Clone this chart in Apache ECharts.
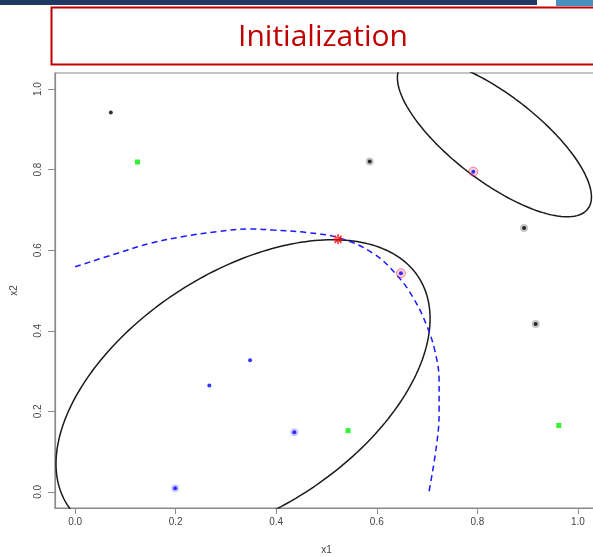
<!DOCTYPE html>
<html>
<head>
<meta charset="utf-8">
<title>Initialization</title>
<script src="https://cdn.jsdelivr.net/npm/echarts@6/dist/echarts.min.js"></script>
<style>
  html, body { margin: 0; padding: 0; background: #ffffff; }
  #chart { width: 593px; height: 557px; }
</style>
</head>
<body>
<div id="chart"></div>
<script>
// ---- data -------------------------------------------------------------
const tickValues = [0.0, 0.2, 0.4, 0.6, 0.8, 1.0];

// observations, grouped by how they are drawn
const plainBlack = [[0.071, 0.942]];
const haloBlack = [[0.586, 0.820], [0.893, 0.655], [0.916, 0.417]];
const greenPoints = [[0.124, 0.819], [0.543, 0.152], [0.962, 0.165]];
const plainBlue = [[0.348, 0.327], [0.267, 0.264]];
const haloBlue = [[0.436, 0.148], [0.199, 0.009]];
const haloPink = [[0.792, 0.795], [0.648, 0.543]];
const starPoint = [[0.523, 0.627]];

// component ellipses: centre, half-extent in x / y, correlation
const ellipseCentres = [[0.334, 0.250], [0.834, 0.880]];
const ellipseHalfExtents = [[0.372, 0.376], [0.193, 0.197]];
const ellipseCorrelations = [0.479, -0.75];

// dashed boundary curve
const boundaryX = [0.000, 0.083, 0.149, 0.215, 0.282, 0.348, 0.394, 0.461, 0.527,
                   0.593, 0.640, 0.673, 0.699, 0.716, 0.724, 0.724, 0.719, 0.704];
const boundaryY = [0.559, 0.592, 0.617, 0.634, 0.646, 0.653, 0.650, 0.644, 0.630,
                   0.592, 0.538, 0.481, 0.414, 0.348, 0.274, 0.199, 0.117, 0.001];

// ---- helpers ----------------------------------------------------------
function ellipseOutline(centre, half, rho) {
  const pts = [];
  const n = 240;
  const s = Math.sqrt(1 - rho * rho);
  for (let i = 0; i <= n; i++) {
    const t = (2 * Math.PI * i) / n;
    pts.push([
      centre[0] + half[0] * Math.cos(t),
      centre[1] + half[1] * (rho * Math.cos(t) + s * Math.sin(t))
    ]);
  }
  return pts;
}

const boundary = boundaryX.map((x, i) => [x, boundaryY[i]]);

const asterisk = 'path://M-0.8,-5 L0.8,-5 L0.8,5 L-0.8,5 Z M-5,-0.8 L5,-0.8 L5,0.8 L-5,0.8 Z ' +
  'M-4.1,-2.9 L2.9,4.1 L4.1,2.9 L-2.9,-4.1 Z M2.9,-4.1 L4.1,-2.9 L-2.9,4.1 L-4.1,2.9 Z';

// ---- chart ------------------------------------------------------------
const chart = echarts.init(document.getElementById('chart'), null, { renderer: 'canvas' });

const axisText = { color: '#444', fontSize: 10, fontFamily: 'Liberation Sans, Arial, sans-serif' };

const ellipseSeries = ellipseCentres.map((c, k) => ({
  type: 'line',
  data: ellipseOutline(c, ellipseHalfExtents[k], ellipseCorrelations[k]),
  showSymbol: false,
  symbol: 'none',
  clip: true,
  silent: true,
  lineStyle: { color: '#1a1a1a', width: 1.5 },
  z: 3
}));

const option = {
  animation: false,
  backgroundColor: '#ffffff',
  graphic: [
    { type: 'rect', shape: { x: 0, y: 0, width: 537, height: 5 }, style: { fill: '#1f3864' } },
    { type: 'rect', shape: { x: 556, y: 0, width: 40, height: 6 }, style: { fill: '#4a8fc2' } },
    { type: 'rect', shape: { x: 51.5, y: 7.5, width: 560, height: 57 },
      style: { fill: '#ffffff', stroke: '#c00000', lineWidth: 2 } },
    { type: 'text', x: 323, y: 37,
      style: { text: 'Initialization', fill: '#c00000', font: '30px "Open Sans", sans-serif',
               textAlign: 'center', textVerticalAlign: 'middle' } }
  ],
  grid: {
    left: 55, top: 73, width: 543, height: 435,
    outerBoundsMode: 'none', containLabel: false,
    show: true, borderColor: '#8a8a8a', borderWidth: 1.2, backgroundColor: 'transparent'
  },
  xAxis: {
    type: 'value', min: -0.04, max: 1.04,
    name: 'x1', nameLocation: 'middle', nameGap: 37,
    nameTextStyle: axisText,
    axisLine: { show: true, onZero: false, lineStyle: { color: '#8a8a8a', width: 1.2 } },
    axisTick: { show: true, length: 6, customValues: tickValues, lineStyle: { color: '#8a8a8a' } },
    axisLabel: Object.assign({ customValues: tickValues, margin: 9,
      formatter: v => v.toFixed(1) }, axisText),
    splitLine: { show: false }
  },
  yAxis: {
    type: 'value', min: -0.04, max: 1.04,
    name: 'x2', nameLocation: 'middle', nameGap: 36, nameRotate: 90,
    nameTextStyle: axisText,
    axisLine: { show: true, onZero: false, lineStyle: { color: '#8a8a8a', width: 1.2 } },
    axisTick: { show: true, length: 7, customValues: tickValues, lineStyle: { color: '#8a8a8a' } },
    axisLabel: Object.assign({ customValues: tickValues, margin: 12, rotate: 90,
      formatter: v => v.toFixed(1) }, axisText),
    splitLine: { show: false }
  },
  series: [
    ...ellipseSeries,
    {
      type: 'line', data: boundary, smooth: 0.4, showSymbol: false, symbol: 'none',
      clip: true, silent: true,
      lineStyle: { color: '#1a1aff', width: 1.5, type: [6, 4] }, z: 4
    },
    // halos
    { type: 'scatter', data: haloBlack, symbol: 'circle', symbolSize: 8,
      itemStyle: { color: 'rgba(0,0,0,0.28)' }, z: 5 },
    { type: 'scatter', data: haloBlue, symbol: 'circle', symbolSize: 8,
      itemStyle: { color: 'rgba(40,40,255,0.30)' }, z: 5 },
    { type: 'scatter', data: haloPink, symbol: 'circle', symbolSize: 9,
      itemStyle: { color: 'rgba(255,90,140,0.35)', borderColor: 'rgba(230,0,60,0.55)', borderWidth: 1 }, z: 5 },
    // points
    { type: 'scatter', data: plainBlack.concat(haloBlack), symbol: 'circle', symbolSize: 4,
      itemStyle: { color: '#000000' }, z: 6 },
    { type: 'scatter', data: greenPoints, symbol: 'rect', symbolSize: 5,
      itemStyle: { color: '#00ee00' }, z: 6 },
    { type: 'scatter', data: plainBlue.concat(haloBlue, haloPink), symbol: 'circle', symbolSize: 4,
      itemStyle: { color: '#0000ff' }, z: 6 },
    { type: 'scatter', data: starPoint, symbol: asterisk, symbolSize: 10,
      itemStyle: { color: '#ff0000' }, z: 7 }
  ]
};

chart.setOption(option);
</script>
</body>
</html>
